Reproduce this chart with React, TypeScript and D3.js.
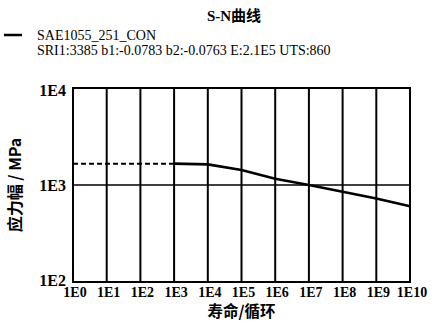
import React from 'react';
import * as d3 from 'd3';

const chartTitle = 'S-N曲线';
const seriesName = 'SAE1055_251_CON';
const seriesParams = 'SRI1:3385 b1:-0.0783 b2:-0.0763 E:2.1E5 UTS:860';
const xTitle = '寿命/循环';
const yTitle = '应力幅 / MPa';

// cycles (decades) and stress amplitude
const xDecades = [0, 1, 2, 3, 4, 5, 6, 7, 8, 9, 10];
const yDecades = [2, 3, 4];
const dashedCycles = [1, 1e3];
const dashedStress = [1660, 1660];
const solidCycles = [1e3, 1e4, 1e5, 1e6, 1e7, 1e8, 1e9, 1e10];
const solidStress = [1660, 1630, 1430, 1160, 1000, 850, 725, 605];

const width = 433,
  height = 326;
const margin = { left: 73, right: 23, top: 88, bottom: 44 };
const serif = 'Liberation Serif, Times New Roman, serif';
const cjk = 'Noto Sans CJK SC';

const x = d3
  .scaleLog()
  .domain([1, 1e10])
  .range([margin.left, width - margin.right]);
const y = d3
  .scaleLog()
  .domain([100, 1e4])
  .range([height - margin.bottom, margin.top]);

const line = d3
  .line<[number, number]>()
  .x(d => x(d[0]))
  .y(d => y(d[1]));

export default function App() {
  const dashed = dashedCycles.map((c, i) => [c, dashedStress[i]] as [number, number]);
  const solid = solidCycles.map((c, i) => [c, solidStress[i]] as [number, number]);
  const x0 = x(1),
    x1 = x(1e10),
    yTop = y(1e4),
    yBot = y(100);

  return (
    <svg
      width={width}
      height={height}
      fontFamily={serif}
      style={{ position: 'absolute', left: 0, top: 0, background: '#fff' }}
    >
      {/* title */}
      <text x={234} y={21} textAnchor="middle" fontWeight="bold" fontSize={15}>
        <tspan fontFamily={serif}>{chartTitle.slice(0, 3)}</tspan>
        <tspan fontFamily={cjk}>{chartTitle.slice(3)}</tspan>
      </text>

      {/* legend */}
      <line x1={4} x2={22} y1={35} y2={35} stroke="#000" strokeWidth={2.5} />
      <text x={37} y={40} fontFamily={serif} fontSize={14}>
        {seriesName}
      </text>
      <text x={37} y={55} fontFamily={serif} fontSize={14}>
        {seriesParams}
      </text>

      {/* vertical grid */}
      {xDecades.map(d => (
        <line
          key={'v' + d}
          x1={x(Math.pow(10, d))}
          x2={x(Math.pow(10, d))}
          y1={yBot}
          y2={yTop}
          stroke="#000"
          strokeWidth={2}
        />
      ))}

      {/* horizontal grid */}
      {yDecades.map(d => (
        <line
          key={'h' + d}
          x1={x0}
          x2={x1}
          y1={y(Math.pow(10, d))}
          y2={y(Math.pow(10, d))}
          stroke="#000"
          strokeWidth={1.4}
        />
      ))}

      <rect x={x0} y={yTop} width={x1 - x0} height={yBot - yTop} fill="none" stroke="#000" strokeWidth={2} />

      {/* tick labels */}
      {xDecades.map(d => (
        <text
          key={'xt' + d}
          x={x(Math.pow(10, d)) + 2}
          y={297}
          textAnchor="middle"
          fontFamily={serif}
          fontWeight="bold"
          fontSize={14}
        >
          {`1E${d}`}
        </text>
      ))}
      {yDecades.map(d => (
        <text
          key={'yt' + d}
          x={66}
          y={y(Math.pow(10, d)) + 6 + (d === 4 ? 2 : d === 2 ? -2 : 0)}
          textAnchor="end"
          fontFamily={serif}
          fontWeight="bold"
          fontSize={16}
        >
          {`1E${d}`}
        </text>
      ))}

      {/* axis titles */}
      <text x={(x0 + x1) / 2} y={317} textAnchor="middle" fontFamily={cjk} fontWeight="bold" fontSize={15.5}>
        {xTitle}
      </text>
      <text
        transform={`translate(21, ${(yTop + yBot) / 2}) rotate(-90)`}
        textAnchor="middle"
        fontFamily={cjk}
        fontWeight="bold"
        fontSize={16}
      >
        {yTitle}
      </text>

      {/* S-N curve */}
      <path d={line(dashed) || ''} fill="none" stroke="#000" strokeWidth={2} strokeDasharray="5,3" />
      <path d={line(solid) || ''} fill="none" stroke="#000" strokeWidth={2.6} />
    </svg>
  );
}
